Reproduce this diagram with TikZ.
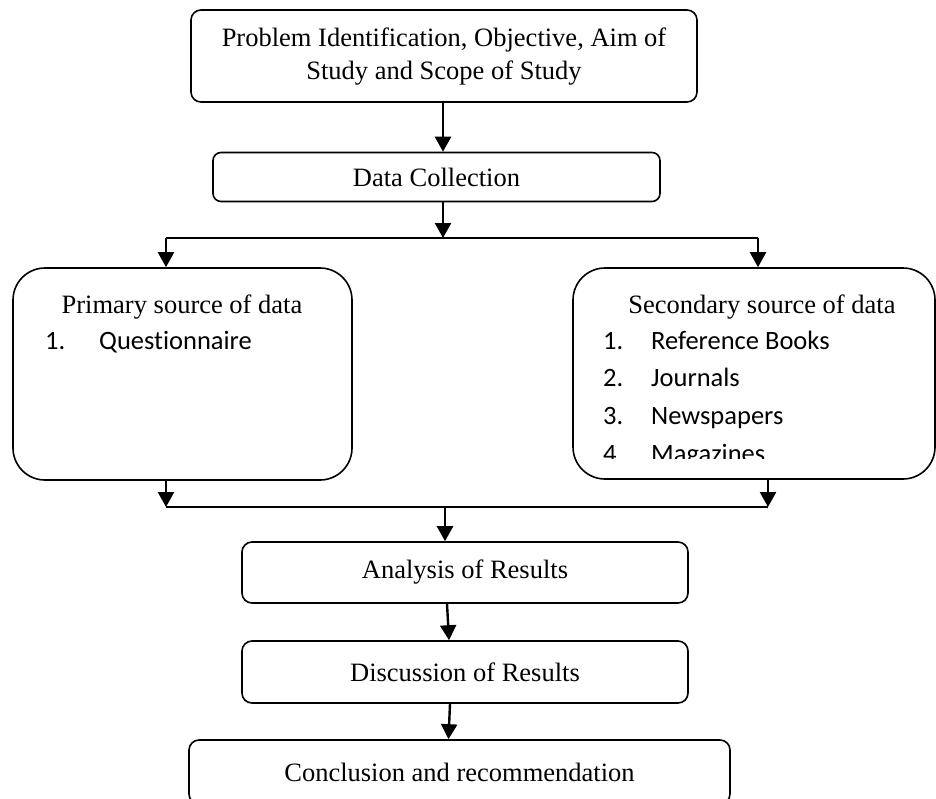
\documentclass[tikz,border=0pt]{standalone}
\usepackage{fontspec}
\setmainfont{Liberation Serif}
\newfontfamily\listfont[Ligatures=NoCommon]{Carlito}
\usetikzlibrary{arrows.meta,positioning}
\tikzset{
  stage/.style={draw=black,line width=1.6pt,rounded corners=10pt,align=center,
    inner sep=0pt,font=\fontsize{26.5}{33}\selectfont},
  source/.style={draw=black,line width=1.6pt,rounded corners=32pt,inner sep=0pt},
  title/.style={anchor=base,inner sep=0pt,font=\fontsize{26.5}{33}\selectfont},
  item/.style={anchor=base west,inner sep=0pt,font=\listfont\fontsize{26.5}{30}\selectfont},
  flow/.style={-{Triangle[length=15pt,width=16pt]},line width=2.4pt},
  joinline/.style={line width=1.8pt}
}
\begin{document}
\begin{tikzpicture}[x=1pt,y=-1pt]
\useasboundingbox (0,0) rectangle (936,798);
% \draw[help lines,step=50] (0,0) grid (936,798);
\node (problem) [stage,minimum width=506pt,minimum height=92pt,text depth=4pt] at (444,56)
  {Problem Identification, Objective, Aim of\\Study and Scope of Study};
\node (data) [stage,rounded corners=8pt,minimum width=447pt,minimum height=49pt] at (436.5,177) {Data Collection};
\node (primary) [source,minimum width=339pt,minimum height=212pt] at (182.5,374) {};
\node (secondary) [source,minimum width=362pt,minimum height=211pt] at (754,373.5) {};
\node (analysis) [stage,minimum width=446pt,minimum height=61pt] at (465,572.5) {Analysis of Results};
\node (discussion) [stage,minimum width=446pt,minimum height=62pt] at (465,672) {Discussion of Results};
\node (conclusion) [stage,minimum width=541pt,minimum height=64pt] at (459.5,772) {Conclusion and recommendation};
%
\node (primtitle) [title] at (182,313) {Primary source of data};
\node (p1) [item] at (45,349) {1.};
\node (p1t) [item] at (99,349) {Questionnaire};
\node (sectitle) [title] at (762,313) {Secondary source of data};
\node (s1) [item] at (603,349) {1.};
\node (s1t) [item] at (651,349) {Reference Books};
\node (s2) [item] at (603,386) {2.};
\node (s2t) [item] at (651,386) {Journals};
\node (s3) [item] at (603,424) {3.};
\node (s3t) [item] at (651,424) {Newspapers};
\begin{scope}
\clip (575,440) rectangle (930,458);
\node (s4) [item] at (603,462) {4.};
\node (s4t) [item] at (651,462) {Magazines};
\end{scope}
%
\coordinate (split) at (443,238);
\coordinate (splitL) at (166,238);
\coordinate (splitR) at (758,238);
\coordinate (mergeL) at (166,507);
\coordinate (mergeR) at (768,507);
\coordinate (merge) at (445,507);
%
\draw[flow] (split |- problem.south) -- (split |- data.north);
\draw[flow] (split |- data.south) -- (split);
\draw[joinline] (splitL) -- (splitR);
\draw[flow] (splitL) -- (splitL |- primary.north);
\draw[flow] (splitR) -- (splitR |- secondary.north);
\draw[flow] (mergeL |- primary.south) -- (mergeL);
\draw[flow] (mergeR |- secondary.south) -- (mergeR);
\draw[joinline] (mergeL) -- (mergeR);
\draw[flow] (merge) -- (merge |- analysis.north);
\draw[flow] ([xshift=-18pt]analysis.south) -- ([xshift=-16pt]discussion.north);
\draw[flow] ([xshift=-15pt]discussion.south) -- ([xshift=-11pt]conclusion.north);
\end{tikzpicture}
\end{document}
